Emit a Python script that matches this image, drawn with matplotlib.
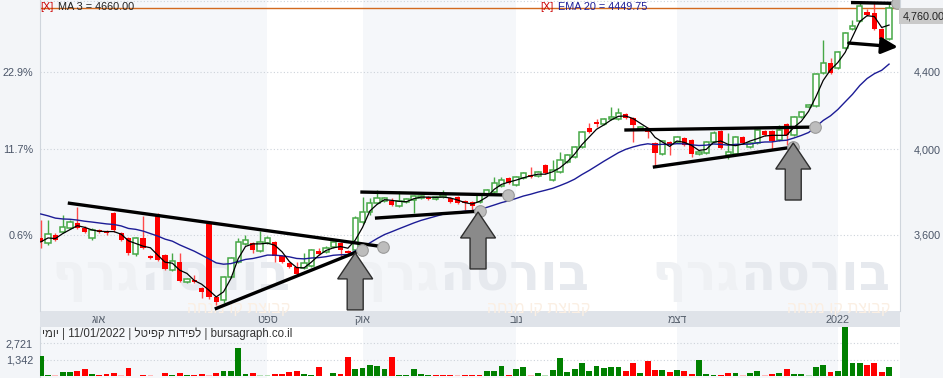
import matplotlib
matplotlib.use('Agg')
import matplotlib.pyplot as plt
from matplotlib.patches import Polygon
from matplotlib.ticker import NullLocator
from matplotlib.transforms import ScaledTranslation
import numpy as np
import pandas as pd

plt.rcParams['font.family'] = ['Liberation Sans', 'DejaVu Sans']

# ============================================================
# DATA  (daily candles, late Jul 2021 .. 11/01/2022)
# ============================================================
opens = [3586, 3564, 3599, 3612, 3630, 3652, 3630, 3586, 3621, 3617,
         3697, 3608, 3586, 3516, 3586, 3507, 3693, 3512, 3447, 3481,
         3397, 3405, 3372, 3647, 3334, 3322, 3418, 3481, 3560, 3564,
         3529, 3564, 3568, 3507, 3477, 3460, 3456, 3464, 3529, 3525,
         3547, 3564, 3529, 3533, 3656, 3702, 3743, 3752, 3752, 3729,
         3748, 3757, 3766, 3771, 3761, 3771, 3766, 3771, 3752, 3748,
         3748, 3780, 3794, 3822, 3859, 3826, 3859, 3874, 3869, 3922,
         3850, 3888, 3936, 3961, 4010, 4105, 4136, 4126, 4151, 4151,
         4177, 4156, 4100, 4105, 4030, 3975, 4035, 4035, 4055, 4045,
         3975, 3980, 4035, 4090, 3970, 3975, 4060, 4010, 4030, 4090,
         4090, 4045, 4126, 4070, 4161, 4213, 4218, 4394, 4448, 4421,
         4530, 4638, 4684, 4735, 4730, 4638, 4582]
highs = [3665, 3665, 3608, 3688, 3665, 3725, 3638, 3630, 3625, 3621,
         3702, 3612, 3590, 3590, 3683, 3510, 3697, 3516, 3520, 3520,
         3414, 3426, 3376, 3652, 3338, 3422, 3503, 3586, 3599, 3568,
         3617, 3595, 3573, 3512, 3481, 3481, 3520, 3538, 3542, 3551,
         3573, 3568, 3533, 3683, 3771, 3766, 3803, 3771, 3766, 3798,
         3766, 3780, 3780, 3775, 3775, 3803, 3771, 3775, 3757, 3752,
         3785, 3807, 3864, 3864, 3864, 3869, 3888, 3912, 3893, 3927,
         3946, 3985, 3975, 4015, 4090, 4131, 4151, 4156, 4213, 4208,
         4182, 4161, 4115, 4110, 4035, 4045, 4040, 4065, 4060, 4050,
         3990, 4040, 4090, 4095, 4080, 4065, 4065, 4035, 4100, 4095,
         4095, 4121, 4131, 4166, 4192, 4228, 4394, 4575, 4475, 4514,
         4620, 4689, 4788, 4753, 4788, 4645, 4788]
lows = [3542, 3555, 3573, 3608, 3625, 3625, 3608, 3577, 3606, 3600,
        3612, 3570, 3512, 3507, 3535, 3495, 3486, 3447, 3443, 3397,
        3393, 3393, 3330, 3326, 3302, 3310, 3414, 3477, 3555, 3520,
        3525, 3560, 3481, 3477, 3456, 3426, 3451, 3460, 3512, 3520,
        3542, 3499, 3516, 3525, 3647, 3688, 3738, 3748, 3729, 3725,
        3743, 3697, 3761, 3757, 3757, 3766, 3743, 3738, 3711, 3706,
        3743, 3775, 3789, 3817, 3831, 3822, 3855, 3859, 3864, 3878,
        3845, 3883, 3932, 3956, 4005, 4080, 4110, 4121, 4146, 4146,
        4151, 4035, 4095, 4055, 3912, 3970, 3970, 4030, 4015, 3961,
        3970, 3975, 4030, 4000, 3951, 3970, 4025, 4005, 4025, 4065,
        3995, 4040, 4020, 4065, 4156, 4208, 4213, 4388, 4388, 4415,
        4525, 4632, 4678, 4712, 4632, 4576, 4576]
closes = [3568, 3603, 3577, 3634, 3656, 3630, 3612, 3621, 3612, 3608,
          3621, 3577, 3520, 3586, 3542, 3499, 3490, 3451, 3486, 3401,
          3409, 3397, 3355, 3334, 3314, 3418, 3499, 3568, 3577, 3533,
          3568, 3586, 3507, 3481, 3460, 3430, 3477, 3533, 3516, 3542,
          3568, 3533, 3520, 3674, 3702, 3743, 3766, 3766, 3734, 3752,
          3761, 3775, 3775, 3761, 3771, 3780, 3748, 3743, 3743, 3729,
          3780, 3803, 3836, 3850, 3836, 3864, 3883, 3864, 3888, 3883,
          3898, 3946, 3970, 4010, 4085, 4085, 4126, 4151, 4161, 4182,
          4156, 4121, 4110, 4085, 3980, 4040, 4020, 4060, 4020, 3975,
          3985, 4035, 4080, 4005, 3985, 4060, 4030, 4030, 4095, 4070,
          4040, 4095, 4070, 4161, 4187, 4223, 4388, 4448, 4394, 4508,
          4615, 4655, 4770, 4718, 4638, 4582, 4760]
volumes = [1660, 100, 100, 340, 340, 420, 580, 180, 100, 180,
           240, 100, 710, 50, 130, 100, 50, 260, 100, 260,
           100, 100, 180, 100, 260, 470, 420, 2370, 180, 260,
           80, 80, 200, 200, 370, 420, 180, 100, 790, 50,
           260, 200, 1600, 580, 710, 930, 880, 580, 1600, 100,
           100, 580, 180, 100, 100, 100, 100, 100, 100, 100,
           100, 420, 420, 820, 130, 610, 770, 100, 290, 80,
           530, 1500, 370, 610, 1050, 420, 820, 660, 790, 770,
           420, 1130, 290, 1230, 530, 530, 370, 530, 420, 210,
           1370, 180, 100, 100, 260, 260, 100, 260, 420, 100,
           180, 260, 580, 180, 180, 80, 790, 950, 370, 420,
           4050, 1130, 1050, 890, 1130, 370, 790]
# G/R = up/down volume, lower case = pale bar
vol_side = ("GGrGGRRGRR" "RrRgRrgRGR" "GRRrRGGGGR" "ggRRRRGGRg" "GRRGGGGGRG"
            "GGGGRRRrRR" "RGGGRGGrGg" "GGGGGGGGGG" "RRGRRGRGRR" "GGGRRGrGGr"
            "RGRGGgGGRG" "GGGRRRG")

month_starts = [8, 31, 44, 65, 87, 109]
month_names = ['אוג', 'ספט', 'אוק', 'נוב', 'דצמ', '2022']
ema_seed = 3706
last_price = 4760

price_ticks = [3600, 4000, 4400]
price_labels = ['3,600', '4,000', '4,400']
pct_labels = ['0.6%', '11.7%', '22.9%']
grid_prices = [3600, 4000, 4400, 4800]
vol_ticks = [1342, 2721]
vol_labels = ['1,342', '2,721']

# drawn-on analysis: (i0, p0, i1, p1), circle at the end point
trend_lines = [(3.7, 3743, 46.8, 3547),
               (23.8, 3285, 43.9, 3533),
               (43.7, 3794, 63.9, 3780),
               (45.7, 3674, 60.1, 3706),
               (79.8, 4095, 105.9, 4110),
               (83.7, 3912, 102.9, 4010),
               (110.8, 4791, 117.1, 4786)]
arrow_line = (110.5, 4558, 117.2, 4536)
arrow_tips = [(43.0, 3520), (59.8, 3702), (102.9, 4030)]


def vis(s):
    # matplotlib has no bidi support: write Hebrew in visual order
    return s[::-1]


# ============================================================
# FIGURE
# ============================================================
W, H = 943, 378
GREEN = '#46a846'
BAND = '#f5f7fa'
GRID = '#cdd3da'
LABEL = '#4a5568'
XMIN, XMAX = -0.1, 117.5

fig = plt.figure(figsize=(W / 100, H / 100), dpi=100, facecolor='#f3f5f8')


def box(l, t, r, b):
    return [l / W, 1 - b / H, (r - l) / W, (b - t) / H]


axb = fig.add_axes(box(40, 311, 900, 327))
axv = fig.add_axes(box(40, 327, 900, 378))
ax = fig.add_axes(box(40, 0, 900, 311))
ax.set_zorder(2)
axb.set_zorder(1)

edges = [XMIN] + month_starts[1:] + [XMAX]
for a in (ax, axv):
    a.set_facecolor('white')
    a.set_xlim(XMIN, XMAX)
    a.set_xticks([])
    for k in range(0, len(edges) - 1, 2):
        a.axvspan(edges[k], edges[k + 1], color=BAND, lw=0, zorder=0.2)
    for s in ('top', 'right', 'bottom'):
        a.spines[s].set_visible(False)
    a.spines['left'].set_color('#cfd5dc')
    a.tick_params(axis='y', length=0, labelsize=7.8, labelcolor=LABEL, pad=5)

# ---------------- price panel ----------------
ax.set_yscale('log')
ax.set_ylim(3277, 4806)
ax.yaxis.set_minor_locator(NullLocator())
ax.set_yticks(price_ticks)
ax.set_yticklabels(pct_labels)
for p in grid_prices:
    ax.axhline(p, color=GRID, lw=0.8, ls=(0, (1, 2)), zorder=0.8)

ax_r = ax.twinx()
ax_r.set_zorder(3)
ax_r.set_yscale('log')
ax_r.set_ylim(ax.get_ylim())
ax_r.yaxis.set_minor_locator(NullLocator())
ax_r.set_yticks(price_ticks)
ax_r.set_yticklabels(price_labels)
ax_r.tick_params(axis='y', length=0, labelsize=7.8, labelcolor=LABEL, pad=10)
for s in ('top', 'left', 'bottom'):
    ax_r.spines[s].set_visible(False)
ax_r.spines['right'].set_color('#cfd5dc')
ax_r.text(1.003, 0.948, '4,760.00', transform=ax.transAxes, ha='left', va='center',
          fontsize=7.8, color='#222222',
          bbox=dict(boxstyle='square,pad=0.3', fc='#c9c9c9', ec='none'))

# watermark
for xr in (0.2907, 0.6395, 0.9884):
    t1 = ax.text(xr, 0.068, vis('בורסה'), transform=ax.transAxes, ha='right',
                 va='baseline', fontsize=37, fontweight='bold', color='#e6e9ee',
                 family='DejaVu Sans', zorder=0.5)
    ax.annotate(vis('גרף'), xy=(0, 0.068), xycoords=(t1, 'axes fraction'),
                ha='right', va='baseline', fontsize=37, fontweight='bold',
                color='#eff1f4', family='DejaVu Sans', zorder=0.5)
    ax.text(xr, -0.006, vis('קבוצת קו מנחה'), transform=ax.transAxes, ha='right',
            va='baseline', fontsize=11.5, color='#fbefe3', zorder=0.5, clip_on=False)

x = np.arange(len(closes))
o, c, h, l = (np.array(v, dtype=float) for v in (opens, closes, highs, lows))
up = c >= o
dn = ~up

ax.axhline(last_price, color='#d2691e', lw=1.0, zorder=2.5)

ax.vlines(x[up], l[up], h[up], color=GREEN, lw=1.0, zorder=3)
ax.vlines(x[dn], l[dn], h[dn], color='#ff4a4a', lw=1.0, zorder=3)
ax.bar(x[up], np.maximum(c[up] - o[up], 4), bottom=o[up], width=0.72,
       facecolor='white', edgecolor=GREEN, lw=1.1, zorder=4)
ax.bar(x[dn], np.maximum(o[dn] - c[dn], 6), bottom=c[dn], width=0.72,
       color='#ff0000', lw=0, zorder=4)

ma3 = pd.Series(c).rolling(3, min_periods=1).mean()
ema20 = pd.Series([ema_seed] + list(c)).ewm(span=20, adjust=False).mean().values[1:]
ax.plot(x, ema20, color='#1c1c96', lw=1.0, zorder=5)
ax.plot(x, ma3, color='black', lw=0.9, zorder=5)

for i0, p0, i1, p1 in trend_lines:
    ax.plot([i0, i1], [p0, p1], color='black', lw=2.4, solid_capstyle='butt', zorder=6)
ax.scatter([t[2] for t in trend_lines], [t[3] for t in trend_lines], s=70,
           c='#bdbdbd', edgecolors='#9a9a9a', linewidths=0.8, zorder=6.5)
ax.annotate('', xy=arrow_line[2:], xytext=arrow_line[:2],
            arrowprops=dict(arrowstyle='-|>,head_length=0.7,head_width=0.35', lw=2.4,
                            color='black', shrinkA=0, shrinkB=0, mutation_scale=14),
            zorder=6)

ARROW = np.array([(0, 0), (17.5, -26), (8, -26), (8, -57), (-8, -57),
                  (-8, -26), (-17.5, -26)]) / 100.0
for tx, ty in arrow_tips:
    tr = fig.dpi_scale_trans + ScaledTranslation(tx, ty, ax.transData)
    ax.add_patch(Polygon(ARROW, closed=True, transform=tr, fc='#8a8a8a',
                         ec='#2e2e2e', lw=1.0, zorder=8))
ax.set_xlim(XMIN, XMAX)

# ---------------- month strip ----------------
axb.set_xlim(XMIN, XMAX)
axb.set_ylim(0, 1)
axb.axis('off')
axb.add_patch(plt.Rectangle((0, 0), 1, 1, transform=axb.transAxes, fc='#dfe3e9', ec='none'))
for ms, name in zip(month_starts, month_names):
    axb.text(ms, 0.45, name if name.isdigit() else vis(name), ha='center', va='center',
             fontsize=7.8, color='#555e6b', zorder=3)

# ---------------- volume panel ----------------
vcol = {'G': '#008000', 'R': '#ff0000', 'g': '#b3deb3', 'r': '#ffb8b8'}
axv.set_ylim(-149, 4064)
axv.set_yticks(vol_ticks)
axv.set_yticklabels(vol_labels)
for v in vol_ticks:
    axv.axhline(v, color=GRID, lw=0.8, ls=(0, (1, 2)), zorder=0.8)
axv.bar(x, volumes, width=0.8, color=[vcol[s] for s in vol_side], lw=0, zorder=3)
axv.text(0.002, 0.86, vis('יומי') + ' | 11/01/2022 | ' + vis('לפידות קפיטל') +
         ' | bursagraph.co.il', transform=axv.transAxes, ha='left', va='center',
         fontsize=8.3, color='#333333', zorder=5)

# ---------------- legend texts ----------------
fig.text(40 / W, 1 - 7 / H, '[X]', color='#cc0000', fontsize=7.8, va='center', zorder=10)
fig.text(58 / W, 1 - 7 / H, 'MA 3 = 4660.00', color='#222222', fontsize=7.8, va='center', zorder=10)
fig.text(540 / W, 1 - 7 / H, '[X]', color='#cc0000', fontsize=7.8, va='center', zorder=10)
fig.text(558 / W, 1 - 7 / H, 'EMA 20 = 4449.75', color='#1c1c96', fontsize=7.8, va='center', zorder=10)

fig.savefig('out.png', dpi=100, facecolor=fig.get_facecolor())
